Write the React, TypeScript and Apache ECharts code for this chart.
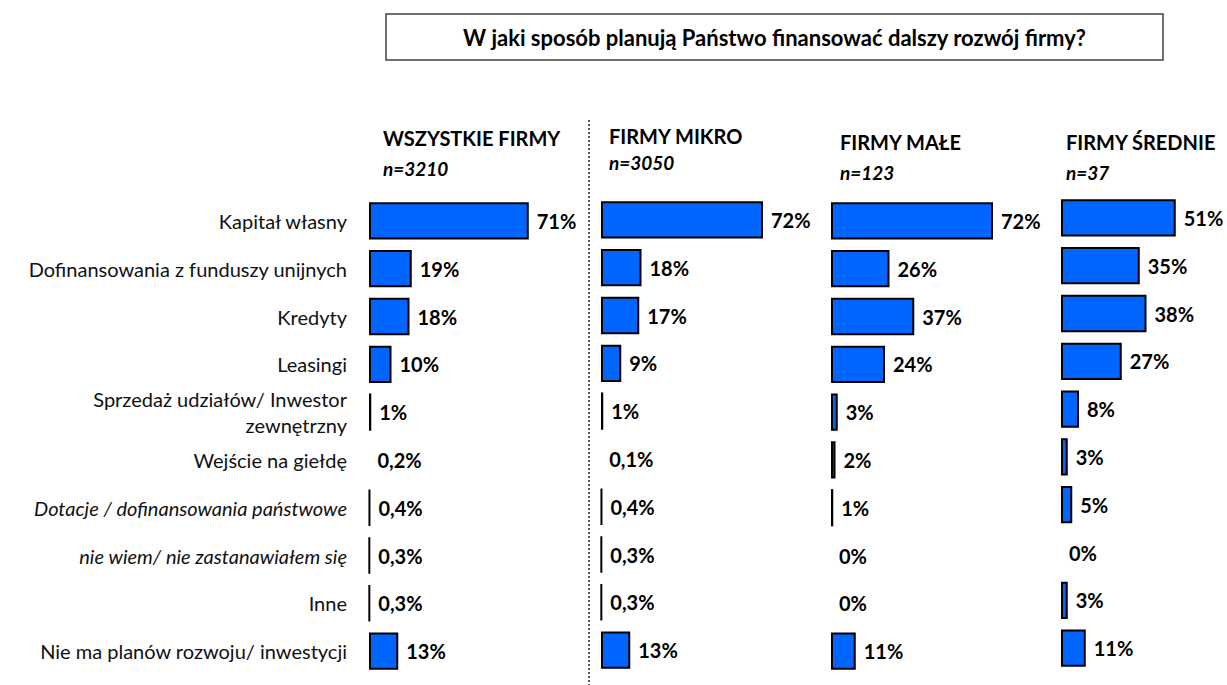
import React, { useEffect, useRef } from "react";
import * as echarts from "echarts";

const titleText = "W jaki sposób planują Państwo finansować dalszy rozwój firmy?";

const categories = [
  "Kapitał własny",
  "Dofinansowania z funduszy unijnych",
  "Kredyty",
  "Leasingi",
  "Sprzedaż udziałów/ Inwestor\nzewnętrzny",
  "Wejście na giełdę",
  "Dotacje / dofinansowania państwowe",
  "nie wiem/ nie zastanawiałem się",
  "Inne",
  "Nie ma planów rozwoju/ inwestycji",
];
const italicCategories = ["Dotacje / dofinansowania państwowe", "nie wiem/ nie zastanawiałem się"];

const panelTitles = ["WSZYSTKIE FIRMY", "FIRMY MIKRO", "FIRMY MAŁE", "FIRMY ŚREDNIE"];
const panelN = ["n=3210", "n=3050", "n=123", "n=37"];

const wszystkie = [71, 19, 18, 10, 1, 0.2, 0.4, 0.3, 0.3, 13];
const mikro = [72, 18, 17, 9, 1, 0.1, 0.4, 0.3, 0.3, 13];
const male = [72, 26, 37, 24, 3, 2, 1, 0, 0, 11];
const srednie = [51, 35, 38, 27, 8, 3, 5, 0, 3, 11];
const panels = [wszystkie, mikro, male, srednie];

const FONT = "Lato, 'Open Sans', sans-serif";
const BLUE = "#0066FF";

const gridLefts = [369, 601, 831, 1061];
const gridTops = [197, 196, 197, 194];
const gridHeight = 478;
const gridWidth = 162;
const xMax = 72;

const headerPos = [
  { x: 383, y: 138, ny: 168 },
  { x: 609, y: 136, ny: 162 },
  { x: 840, y: 142, ny: 172 },
  { x: 1066, y: 142, ny: 172 },
];

const fmt = (v: number) => String(v).replace(".", ",") + "%";

export default function App() {
  const ref = useRef<HTMLDivElement>(null);
  useEffect(() => {
    if (!ref.current) return;
    const chart = echarts.init(ref.current, undefined, { renderer: "svg" });

    const grids = panels.map((_, i) => ({
      left: gridLefts[i],
      top: gridTops[i],
      width: gridWidth,
      height: gridHeight,
      containLabel: false,
    }));
    const xAxes = panels.map((_, i) => ({
      type: "value",
      gridIndex: i,
      min: 0,
      max: xMax,
      show: false,
    }));
    const yAxes = panels.map((_, i) => ({
      type: "category",
      gridIndex: i,
      data: categories,
      inverse: true,
      axisLine: { show: false },
      axisTick: { show: false },
      splitLine: { show: false },
      axisLabel: {
        show: i === 0,
        margin: 22,
        fontFamily: FONT,
        fontSize: 20,
        color: "#111",
        lineHeight: 26,
        align: "right",
        formatter: (v: string) => (italicCategories.includes(v) ? `{i|${v}}` : v),
        rich: {
          i: { fontStyle: "italic", fontFamily: FONT, fontSize: 20, color: "#111" },
        },
      },
    }));
    const series = panels.map((vals, i) => ({
      type: "bar",
      xAxisIndex: i,
      yAxisIndex: i,
      barCategoryGap: "22%",
      clip: false,
      data: vals.map((v) =>
        v < 0.25
          ? { value: v, itemStyle: { color: "rgba(0,0,0,0)", borderWidth: 0 } }
          : { value: v }
      ),
      itemStyle: { color: BLUE, borderColor: "#000", borderWidth: 2 },
      label: {
        show: true,
        position: "right",
        distance: 8,
        fontFamily: FONT,
        fontSize: 20,
        fontWeight: "bold",
        color: "#000",
        formatter: (p: any) => fmt(vals[p.dataIndex]),
      },
    }));

    const graphics: any[] = [
      {
        type: "rect",
        shape: { x: 386, y: 14, width: 777, height: 46 },
        style: { fill: "#fff", stroke: "#404040", lineWidth: 1.5 },
      },
      {
        type: "text",
        x: 774.5,
        y: 37,
        style: {
          text: titleText,
          fontFamily: FONT,
          fontSize: 22,
          fontWeight: "bold",
          fill: "#000",
          align: "center",
          verticalAlign: "middle",
        },
      },
      {
        type: "line",
        shape: { x1: 589, y1: 120, x2: 589, y2: 685 },
        style: { stroke: "#555", lineWidth: 2, lineDash: [2, 2] },
      },
    ];
    panelTitles.forEach((t, i) => {
      graphics.push({
        type: "text",
        x: headerPos[i].x,
        y: headerPos[i].y,
        style: {
          text: t,
          fontFamily: FONT,
          fontSize: 20,
          fontWeight: "bold",
          fill: "#000",
          align: "left",
          verticalAlign: "middle",
        },
      });
      graphics.push({
        type: "text",
        x: headerPos[i].x,
        y: headerPos[i].ny,
        style: {
          text: panelN[i],
          fontFamily: FONT,
          fontSize: 19,
          fontWeight: "bold",
          fontStyle: "italic",
          fill: "#000",
          align: "left",
          verticalAlign: "middle",
        },
      });
    });

    chart.setOption({
      animation: false,
      backgroundColor: "#fff",
      grid: grids,
      xAxis: xAxes,
      yAxis: yAxes,
      series,
      graphic: graphics,
    });
    return () => chart.dispose();
  }, []);
  return (
    <div
      ref={ref}
      style={{ position: "absolute", left: 0, top: 0, width: 1227, height: 685 }}
    />
  );
}
